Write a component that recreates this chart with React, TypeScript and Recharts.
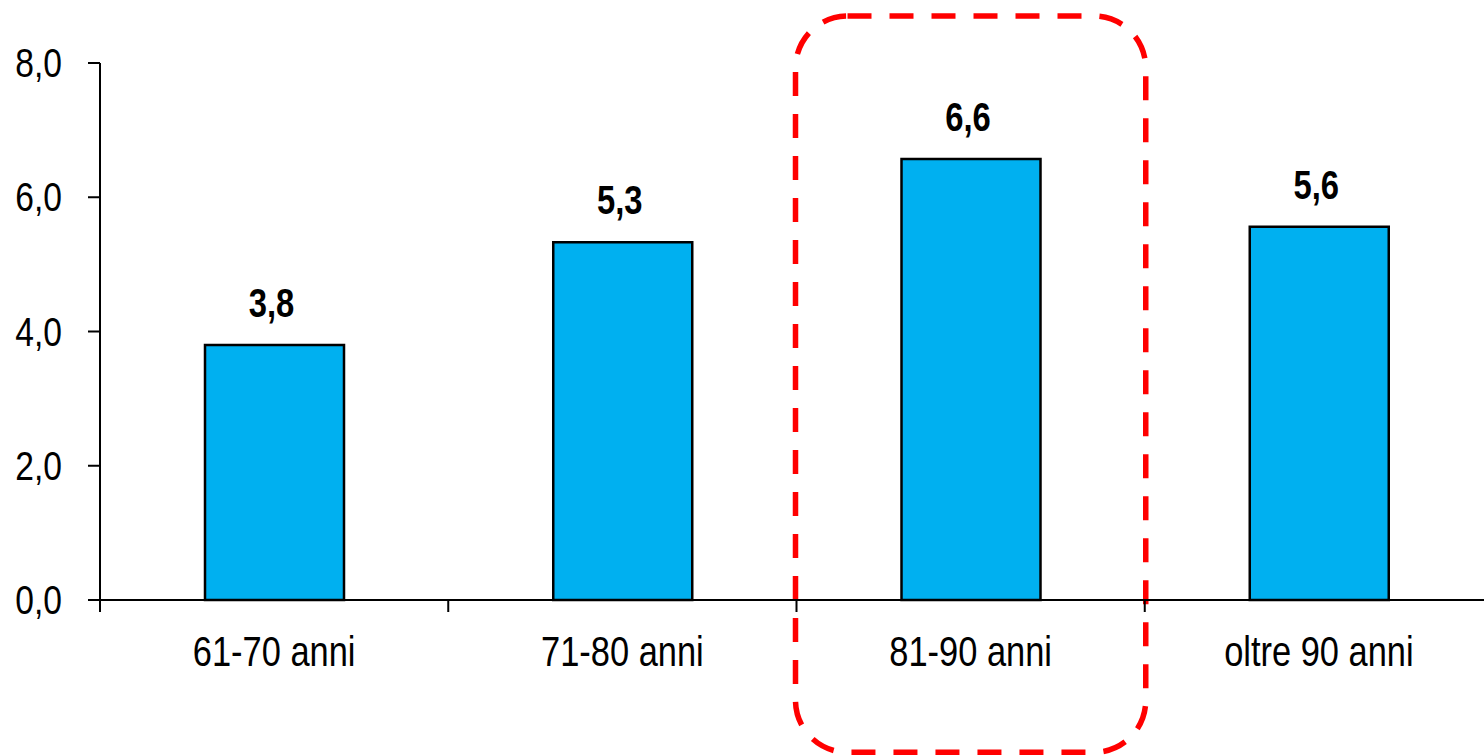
import React from 'react';
import { BarChart, Bar, XAxis, YAxis, LabelList, ReferenceArea } from 'recharts';

const categories = ['61-70 anni', '71-80 anni', '81-90 anni', 'oltre 90 anni'];
const values = [3.8, 5.33, 6.57, 5.56];
const yTicks = [0, 2, 4, 6, 8];
const highlightCategory = '81-90 anni';
const highlightBottom = -2.27;
const highlightTop = 8.7;

const data = categories.map((c, i) => ({ name: c, value: values[i] }));

const fmt = (v: number) => Number(v).toFixed(1).replace('.', ',');

const FONT = "'Liberation Sans', Arial, sans-serif";
const NARROW = 0.82;

const NarrowText = (p: any) => (
  <text
    transform={`translate(${p.x},${p.y}) scale(${NARROW},1)`}
    x={0}
    y={0}
    textAnchor={p.anchor}
    fontSize={p.size}
    fontWeight={p.bold ? 'bold' : 'normal'}
    fontFamily={FONT}
    fill="#000"
  >
    {p.children}
  </text>
);

const XTick = (props: any) => {
  const { x, y, payload, index, visibleTicksCount } = props;
  const off = payload && payload.offset ? payload.offset : 0;
  const lineTop = y - 36;
  return (
    <g>
      <line x1={x - off} x2={x - off} y1={lineTop} y2={lineTop + 12} stroke="#000" strokeWidth={2} />
      {index === visibleTicksCount - 1 && (
        <line x1={x + off} x2={x + off} y1={lineTop} y2={lineTop + 12} stroke="#000" strokeWidth={2} />
      )}
      <NarrowText x={x} y={y + 30} anchor="middle" size={42}>
        {payload.value}
      </NarrowText>
    </g>
  );
};

const YTick = (props: any) => {
  const { x, y, payload } = props;
  return (
    <NarrowText x={x} y={y + 14} anchor="end" size={41}>
      {fmt(payload.value)}
    </NarrowText>
  );
};

const BarLabel = (props: any) => {
  const { x, y, width, value } = props;
  return (
    <NarrowText x={x + width / 2 - 3} y={y - 28} anchor="middle" size={40} bold>
      {fmt(value)}
    </NarrowText>
  );
};

const HighlightShape = (props: any) => {
  const { x, y, width, height } = props;
  return (
    <rect
      x={x - 1}
      y={y}
      width={width + 2}
      height={height}
      rx={52}
      ry={52}
      fill="none"
      stroke="#FF0000"
      strokeWidth={5.5}
      strokeDasharray="24 18"
    />
  );
};

export default function App() {
  return (
    <div style={{ position: 'absolute', left: 0, top: 0, width: 1484, height: 756, overflow: 'hidden', background: '#fff', fontFamily: FONT }}>
      <BarChart width={1500} height={756} data={data} margin={{ top: 63, right: 7, bottom: 96, left: 0 }}>
        <YAxis
          type="number"
          domain={[0, 8]}
          ticks={yTicks}
          width={100}
          tickSize={12}
          tickMargin={26}
          axisLine={{ stroke: '#000', strokeWidth: 2 }}
          tickLine={{ stroke: '#000', strokeWidth: 2 }}
          tick={<YTick />}
        />
        <XAxis
          dataKey="name"
          type="category"
          height={60}
          tickSize={12}
          tickMargin={24}
          axisLine={{ stroke: '#000', strokeWidth: 2 }}
          tickLine={{ stroke: 'none' }}
          tick={<XTick />}
          interval={0}
        />
        <Bar dataKey="value" fill="#00B0F0" stroke="#000" strokeWidth={2.5} barSize={139} isAnimationActive={false}>
          <LabelList dataKey="value" content={<BarLabel />} />
        </Bar>
        <ReferenceArea
          x1={highlightCategory}
          x2={highlightCategory}
          y1={highlightBottom}
          y2={highlightTop}
          ifOverflow="visible"
          shape={<HighlightShape />}
        />
      </BarChart>
    </div>
  );
}
